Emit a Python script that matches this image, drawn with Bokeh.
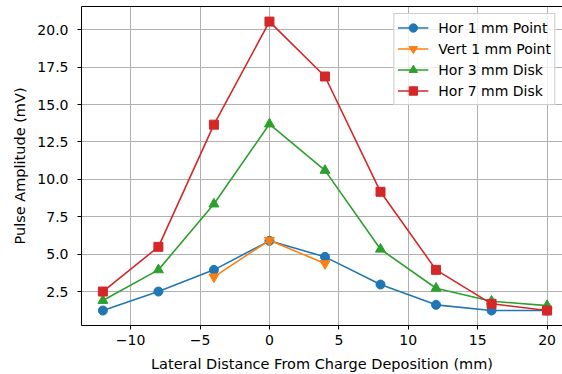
from bokeh.plotting import figure
from bokeh.models import FixedTicker, PrintfTickFormatter, Range1d, Legend, LegendItem, LinearAxis
from bokeh.embed import file_html
from bokeh.resources import INLINE

x_all = [-12, -8, -4, 0, 4, 8, 12, 16, 20]
x_vert = [-4, 0, 4]
hor1 = [1.23, 2.5, 3.95, 5.89, 4.82, 2.97, 1.61, 1.23, 1.23]
vert1 = [3.48, 5.93, 4.37]
hor3 = [1.9, 3.95, 8.35, 13.7, 10.6, 5.33, 2.72, 1.85, 1.56]
hor7 = [2.5, 5.49, 13.66, 20.55, 16.88, 9.17, 3.95, 1.68, 1.23]

labels = ["Hor 1 mm Point", "Vert 1 mm Point", "Hor 3 mm Disk", "Hor 7 mm Disk"]
colors = ["#1f77b4", "#ff7f0e", "#2ca02c", "#d62728"]
xticks = [-10, -5, 0, 5, 10, 15, 20]
yticks = [2.5, 5.0, 7.5, 10.0, 12.5, 15.0, 17.5, 20.0]

FONT = "DejaVu Sans"
FS = "14px"

p = figure(width=562, height=374, output_backend="svg", toolbar_location=None,
           x_range=Range1d(-13.54, 21.11), y_range=Range1d(0.23, 21.56),
           min_border_left=81, min_border_right=0, min_border_top=6, min_border_bottom=49)

series = [
    (x_all, hor1, "circle", 9),
    (x_vert, vert1, "inverted_triangle", 10),
    (x_all, hor3, "triangle", 10),
    (x_all, hor7, "square", 9),
]
items = []
for (xs, ys, marker, sz), lab, col in zip(series, labels, colors):
    l = p.line(xs, ys, line_color=col, line_width=1.6)
    s = p.scatter(xs, ys, marker=marker, size=sz, fill_color=col, line_color=col)
    items.append(LegendItem(label=lab, renderers=[l, s]))

legend = Legend(items=items, location="top_right")
legend.label_text_font = FONT
legend.label_text_font_size = FS
legend.label_text_color = "black"
legend.border_line_color = "#cccccc"
legend.border_line_alpha = 1.0
legend.background_fill_alpha = 0.8
legend.glyph_width = 31
legend.glyph_height = 21
legend.label_height = 21
legend.spacing = 0
legend.padding = 3
legend.margin = 7
legend.label_standoff = 10
p.add_layout(legend)

p.xaxis.ticker = FixedTicker(ticks=xticks)
p.xaxis.major_label_overrides = {-10: "\u221210", -5: "\u22125", 0: "0", 5: "5", 10: "10", 15: "15", 20: "20"}
p.yaxis.ticker = FixedTicker(ticks=yticks)
p.yaxis.formatter = PrintfTickFormatter(format="%.1f")

p.xaxis.axis_label = "Lateral Distance From Charge Deposition (mm)"
p.yaxis.axis_label = "Pulse Amplitude (mV)"
for ax in (p.xaxis[0], p.yaxis[0]):
    ax.axis_label_text_font = FONT
    ax.axis_label_text_font_size = "14.5px"
    ax.axis_label_text_font_style = "normal"
    ax.axis_label_text_color = "black"
    ax.major_label_text_font = FONT
    ax.major_label_text_font_size = FS
    ax.major_label_text_color = "black"
    ax.axis_line_color = "black"
    ax.major_tick_line_color = "black"
    ax.major_tick_out = 4
    ax.major_tick_in = 0
    ax.minor_tick_line_color = None
p.xaxis.axis_label_standoff = 8
p.xaxis.major_label_standoff = 5
p.yaxis.axis_label_standoff = 6
p.yaxis.major_label_standoff = 9

top = LinearAxis(ticker=FixedTicker(ticks=[]), major_label_text_font_size="0px",
                 major_tick_out=0, major_tick_in=0, minor_tick_out=0, minor_tick_in=0,
                 major_label_standoff=0, axis_line_color="black")
p.add_layout(top, "above")

p.outline_line_color = None
p.xgrid.ticker = FixedTicker(ticks=xticks)
p.ygrid.ticker = FixedTicker(ticks=yticks)
p.grid.grid_line_color = "#b0b0b0"
p.grid.grid_line_width = 1
p.grid.grid_line_alpha = 1.0
p.background_fill_color = "white"
p.border_fill_color = "white"

open("out.html", "w").write(file_html(p, INLINE))
